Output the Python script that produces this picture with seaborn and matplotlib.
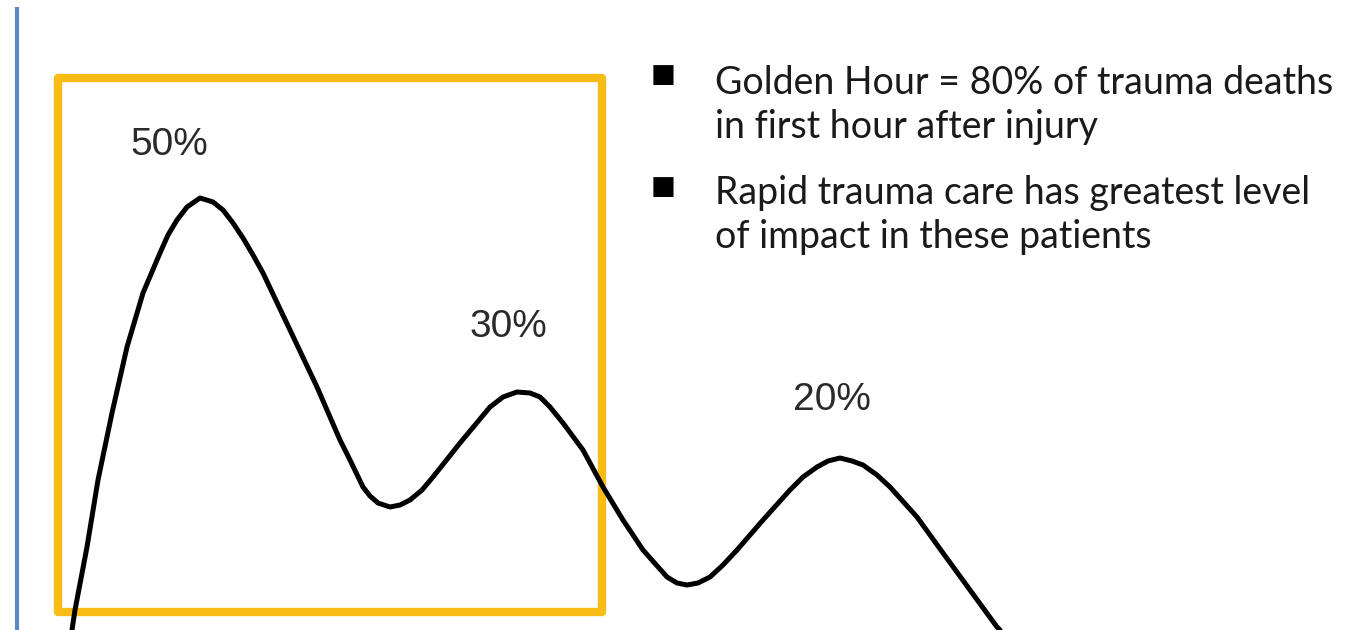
import matplotlib
matplotlib.use("Agg")
import matplotlib.pyplot as plt
import matplotlib.patches as mpatches
import pandas as pd
import seaborn as sns

# Trimodal distribution of trauma deaths (schematic)
time_after_injury = [72, 75, 87, 98, 112, 127, 143, 160, 168, 177, 187, 200, 213, 223,
                     233, 243, 253, 263, 290, 317, 340, 350, 363, 370, 378, 390, 400, 410,
                     422, 433, 460, 490, 503, 517, 530, 540, 550, 563, 583, 603, 623,
                     643, 667, 677, 687, 698, 710, 723, 737, 763, 790, 803, 817, 828,
                     840, 852, 863, 877, 890, 917, 943, 970, 997, 1000]
deaths = [0, 20, 83, 150, 217, 283, 337, 377, 395, 410, 423, 432, 428, 420,
          407, 392, 375, 357, 300, 243, 190, 170, 143, 134, 127, 123, 125, 130,
          140, 153, 187, 223, 233, 238, 237, 233, 223, 207, 180, 143, 110,
          80, 53, 47, 45, 47, 53, 65, 80, 110, 140, 153, 163, 169,
          172, 169, 165, 155, 143, 113, 77, 40, 3, 0]

peak_labels = ["50%", "30%", "20%"]
peak_label_x = [169, 508, 832]
peak_label_y = [485, 303, 230]

bullets = [
    "Golden Hour = 80% of trauma deaths\nin first hour after injury",
    "Rapid trauma care has greatest level\nof impact in these patients",
]

df = pd.DataFrame({"time": time_after_injury, "deaths": deaths})

sns.set_theme(style="white")
fig = plt.figure(figsize=(13.53, 6.30), dpi=100)
ax = fig.add_axes([0, 0, 1, 1])
ax.set_xlim(0, 1353)
ax.set_ylim(0, 630)
ax.axis("off")

# left blue rule
ax.plot([17, 17], [0, 623], color="#5b87c5", lw=3, solid_capstyle="butt")

# golden hour box
box = mpatches.Rectangle((58, 18), 544, 534, fill=False, edgecolor="#f9bc15",
                         lw=6, joinstyle="round")
ax.add_patch(box)

sns.lineplot(data=df, x="time", y="deaths", ax=ax, color="black", lw=3.6,
             sort=False, estimator=None)
for l in ax.lines[1:]:
    l.set_solid_joinstyle("round")

for lab, x, y in zip(peak_labels, peak_label_x, peak_label_y):
    ax.text(x, y, lab, ha="center", va="center", fontsize=28,
            family="Liberation Sans", color="#2a2a2a")

bullet_y = [555, 443]
block_y = [525, 415]
for txt, by, ty in zip(bullets, bullet_y, block_y):
    ax.text(663, by, "\u25a0", ha="center", va="center", fontsize=19,
            family="DejaVu Sans", color="black")
    ax.text(715, ty, txt, ha="left", va="center", fontsize=27,
            family="Lato", color="#1a1a1a", linespacing=1.25)

fig.savefig("out.png", dpi=100)
